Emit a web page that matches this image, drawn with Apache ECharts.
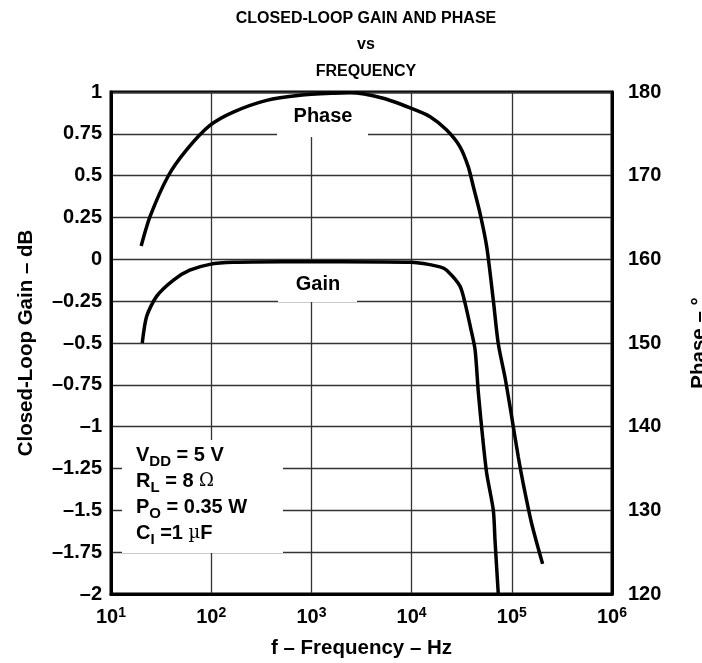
<!DOCTYPE html>
<html>
<head>
<meta charset="utf-8">
<script src="https://cdn.jsdelivr.net/npm/echarts@6/dist/echarts.min.js"></script>
<style>
html,body{margin:0;padding:0;background:#fff;overflow:hidden;}
#chart{width:702px;height:663px;}
</style>
</head>
<body>
<div id="chart"></div>
<script>
// ---- data ----
const gainFreq = [20.5, 22.7, 28.6, 42, 61, 97, 166, 500, 2000, 10000, 19200, 22400, 30400, 34100, 38500, 43000, 46400, 51500, 56200, 65400, 68000, 73300];
const gainDb   = [-0.50, -0.34, -0.22, -0.124, -0.065, -0.03, -0.018, -0.015, -0.015, -0.018, -0.045, -0.065, -0.16, -0.26, -0.40, -0.54, -0.80, -1.08, -1.28, -1.50, -1.68, -2.0];
const phaseFreq = [20, 24.5, 37, 57, 97, 166, 358, 770, 1650, 2430, 5200, 9900, 15300, 22400, 30400, 36800, 41300, 48200, 56200, 65400, 73300, 85500, 99700, 116000, 130000, 158000, 203000];
const phaseDeg  = [161.6, 165.1, 169.9, 173.1, 176.0, 177.6, 179.0, 179.6, 179.85, 179.9, 179.25, 178.05, 177.05, 175.45, 173.45, 171.05, 168.7, 165.5, 161.5, 155.1, 149.9, 145.9, 141.2, 136.4, 133.2, 128.4, 123.6];
const titleLines = ['CLOSED-LOOP GAIN AND PHASE', 'vs', 'FREQUENCY'];
const xName = 'f – Frequency – Hz';
const yLeftName = 'Closed-Loop Gain – dB';
const yRightName = 'Phase – °';

const FONT = '"Liberation Sans", Arial, Helvetica, sans-serif';
const chart = echarts.init(document.getElementById('chart'));

const gainData = gainFreq.map((f, i) => [f, gainDb[i]]);
const phaseData = phaseFreq.map((f, i) => [f, phaseDeg[i]]);

const labelStyle = { fontFamily: FONT, fontWeight: 'bold', fontSize: 20, color: '#000' };
const nameStyle = { fontFamily: FONT, fontWeight: 'bold', fontSize: 20.5, color: '#000' };

chart.setOption({
  animation: false,
  backgroundColor: '#fff',
  title: {
    text: titleLines.join('\n'),
    left: 361, top: 0, textAlign: 'center',
    textStyle: { fontFamily: FONT, fontWeight: 'bold', fontSize: 16, lineHeight: 26.5, color: '#000' }
  },
  grid: { left: 111, right: 90, top: 92, bottom: 69, show: true, borderColor: '#000', borderWidth: 3, backgroundColor: '#fff', containLabel: false, outerBoundsMode: 'none' },
  xAxis: {
    type: 'log', logBase: 10, min: 10, max: 1000000,
    name: xName, nameLocation: 'middle', nameGap: 44,
    nameTextStyle: nameStyle,
    axisLine: { show: true, onZero: false, lineStyle: { color: '#000', width: 3 } },
    axisTick: { show: false },
    minorTick: { show: false },
    splitLine: { show: true, lineStyle: { color: '#333', width: 1.3 } },
    axisLabel: {
      margin: 12,
      formatter: v => '{b|10}{s|' + Math.round(Math.log10(v)) + '}',
      rich: {
        b: { fontFamily: FONT, fontWeight: 'bold', fontSize: 20, color: '#000' },
        s: { fontFamily: FONT, fontWeight: 'bold', fontSize: 14, color: '#000', verticalAlign: 'bottom', padding: [0, 0, 9, 0] }
      }
    }
  },
  yAxis: [
    {
      type: 'value', min: -2, max: 1, interval: 0.25, position: 'left',
      name: yLeftName, nameLocation: 'middle', nameGap: 74, nameRotate: 90,
      nameTextStyle: nameStyle,
      axisLine: { show: true, onZero: false, lineStyle: { color: '#000', width: 3 } },
      axisTick: { show: false },
      splitLine: { show: true, lineStyle: { color: '#333', width: 1.3 } },
      axisLabel: Object.assign({ margin: 9, formatter: v => v < 0 ? '–' + String(-v) : String(v) }, labelStyle)
    },
    {
      type: 'value', min: 120, max: 180, interval: 10, position: 'right',
      name: yRightName, nameLocation: 'middle', nameGap: 77, nameRotate: 90,
      nameTextStyle: nameStyle,
      axisLine: { show: true, onZero: false, lineStyle: { color: '#000', width: 3 } },
      axisTick: { show: false },
      splitLine: { show: false },
      axisLabel: Object.assign({ margin: 16 }, labelStyle)
    }
  ],
  graphic: [
    { type: 'rect', z: 1, shape: { x: 277, y: 95, width: 91, height: 42 }, style: { fill: '#fff' } },
    { type: 'text', z: 1, x: 323, y: 116, style: { text: 'Phase', fill: '#000', font: 'bold 20px ' + FONT, textAlign: 'center', textVerticalAlign: 'middle' } },
    { type: 'rect', z: 1, shape: { x: 278, y: 263, width: 79, height: 39 }, style: { fill: '#fff' } },
    { type: 'text', z: 1, x: 318, y: 284, style: { text: 'Gain', fill: '#000', font: 'bold 20px ' + FONT, textAlign: 'center', textVerticalAlign: 'middle' } },
    { type: 'rect', z: 1, shape: { x: 122, y: 440, width: 161, height: 113 }, style: { fill: '#fff' } },
    { type: 'text', z: 1, x: 136, y: 442, style: {
        text: '{n|V}{s|DD}{n| = 5 V}\n{n|R}{s|L}{n| = 8 }{g|Ω}\n{n|P}{s|O}{n| = 0.35 W}\n{n|C}{s|I}{n| =1 }{g|µ}{n|F}',
        fill: '#000',
        rich: {
          n: { fontFamily: FONT, fontWeight: 'bold', fontSize: 20, lineHeight: 26, color: '#000' },
          g: { fontFamily: '"DejaVu Serif", serif', fontWeight: 'normal', fontSize: 18, lineHeight: 26, color: '#000' },
          s: { fontFamily: FONT, fontWeight: 'bold', fontSize: 15, lineHeight: 26, color: '#000', verticalAlign: 'top', padding: [12, 0, 0, 0] }
        }
    } }
  ],
  series: [
    { name: 'Gain', type: 'line', yAxisIndex: 0, data: gainData, smooth: 0.25, showSymbol: false, symbol: 'none', lineStyle: { color: '#000', width: 3.5 }, z: 3 },
    { name: 'Phase', type: 'line', yAxisIndex: 1, data: phaseData, smooth: 0.25, showSymbol: false, symbol: 'none', lineStyle: { color: '#000', width: 3.5 }, z: 3 }
  ]
});
</script>
</body>
</html>
